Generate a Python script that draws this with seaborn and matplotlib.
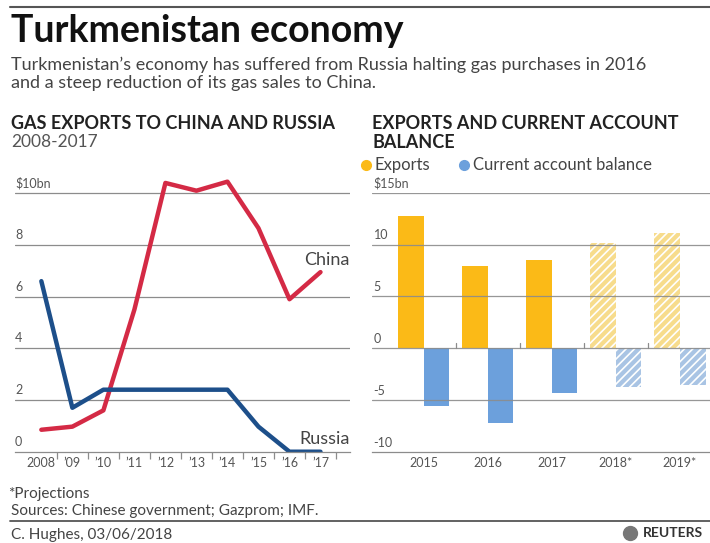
import numpy as np
import pandas as pd
import matplotlib
matplotlib.use("Agg")
import matplotlib.pyplot as plt
import seaborn as sns

# Left chart: gas exports, $bn
gas_years = [2008, 2009, 2010, 2011, 2012, 2013, 2014, 2015, 2016, 2017]
gas_labels = ["2008", "’09", "’10", "’11", "’12", "’13", "’14", "’15", "’16", "’17"]
china = [0.85, 0.97, 1.6, 5.5, 10.4, 10.1, 10.45, 8.65, 5.9, 6.95]
russia = [6.6, 1.7, 2.4, 2.4, 2.4, 2.4, 2.4, 0.97, 0.0, 0.0]

# Right chart: exports and current account balance, $bn
bal_years = ["2015", "2016", "2017", "2018*", "2019*"]
exports = [12.8, 7.97, 8.5, 10.1, 11.1]
current_account = [-5.6, -7.2, -4.35, -3.8, -3.6]
projected = [False, False, False, True, True]

RED = "#d42a45"
NAVY = "#1d4f8a"
GOLD = "#fbba17"
BLUE = "#6ca0dc"
GOLD_PALE = "#f7dc8c"
BLUE_PALE = "#a9c4e4"
GRID = "#8c8c8c"
TXT = "#555555"

sns.set_theme(style="white")
plt.rcParams["font.family"] = ["Lato", "DejaVu Sans"]
plt.rcParams["hatch.linewidth"] = 1.2

fig = plt.figure(figsize=(7.1, 5.43), dpi=100)

# ---------- left: line chart ----------
ax1 = fig.add_axes([0.0211, 0.1681, 0.4718, 0.5045])
gas_df = pd.DataFrame({"year": gas_years, "China": china, "Russia": russia})
sns.lineplot(data=gas_df, x="year", y="China", color=RED, lw=3.2, ax=ax1)
sns.lineplot(data=gas_df, x="year", y="Russia", color=NAVY, lw=3.2, ax=ax1)
ax1.set_xlim(2007.15, 2017.95)
ax1.set_ylim(0, 10.6)
for v in [2, 4, 6, 8, 10]:
    ax1.axhline(v, color=GRID, lw=0.9, zorder=0)
    lab = "$10bn" if v == 10 else str(v)
    ax1.text(2007.15, v + 0.15, lab, color=TXT, fontsize=9, va="bottom", ha="left")
ax1.text(2007.15, 0.15, "0", color=TXT, fontsize=9, va="bottom", ha="left")
ax1.set_yticks([])
ax1.set_xticks(gas_years)
ax1.set_xticklabels(gas_labels, color=TXT, fontsize=9)
ax1.set_xticks([y + 0.5 for y in gas_years], minor=True)
ax1.tick_params(axis="x", which="major", length=0, pad=4)
ax1.tick_params(axis="x", which="minor", bottom=True, length=5, width=0.9, color=GRID)
ax1.set_xlabel("")
ax1.set_ylabel("")
for s in ["top", "left", "right"]:
    ax1.spines[s].set_visible(False)
ax1.spines["bottom"].set_color(GRID)
ax1.spines["bottom"].set_linewidth(0.9)
ax1.text(2017.95, 7.1, "China", color="#444444", fontsize=13, ha="right", va="bottom")
ax1.text(2017.95, 0.2, "Russia", color="#444444", fontsize=13, ha="right", va="bottom")

# ---------- right: bar chart ----------
ax2 = fig.add_axes([0.5235, 0.1681, 0.4765, 0.477])
bal_df = pd.DataFrame({
    "year": bal_years * 2,
    "value": exports + current_account,
    "series": ["Exports"] * 5 + ["Current account balance"] * 5,
})
sns.barplot(data=bal_df, x="year", y="value", hue="series",
            palette=[GOLD, BLUE], width=0.8, dodge=True, saturation=1,
            legend=False, ax=ax2)
for i, bar in enumerate(ax2.patches[:10]):
    idx = i % 5
    bar.set_linewidth(0)
    if projected[idx]:
        bar.set_facecolor(GOLD_PALE if i < 5 else BLUE_PALE)
        bar.set_edgecolor("white")
        bar.set_hatch("////")
    else:
        bar.set_edgecolor("none")
ax2.set_xlim(-0.81, 4.47)
ax2.set_ylim(-10, 15)
for v in [-5, 0, 5, 10, 15]:
    ax2.axhline(v, color=GRID, lw=0.9, zorder=5, alpha=0.9)
    if v != 15:
        ax2.text(-0.78, v + 0.3, str(v), color=TXT, fontsize=9, va="bottom", ha="left")
ax2.text(-0.78, 15 + 0.3, "$15bn", color=TXT, fontsize=9, va="bottom", ha="left")
ax2.text(-0.78, -10 + 0.3, "-10", color=TXT, fontsize=9, va="bottom", ha="left")
ax2.set_yticks([])
ax2.tick_params(axis="x", length=0, pad=4, labelsize=9, labelcolor=TXT)
ax2.set_xlabel("")
ax2.set_ylabel("")
for k in range(4):
    ax2.plot([k + 0.5, k + 0.5], [0, 0.5], color=GRID, lw=0.9, zorder=6)
for s in ["top", "left", "right"]:
    ax2.spines[s].set_visible(False)
ax2.spines["bottom"].set_color(GRID)
ax2.spines["bottom"].set_linewidth(0.9)

# ---------- texts ----------
fig.add_artist(plt.Line2D([0.014, 1.0], [0.988, 0.988], color="#555555", lw=1.5))
fig.text(0.016, 0.943, "Turkmenistan economy", fontsize=27, fontweight="bold",
         color="#111111", va="center")
fig.text(0.016, 0.880, "Turkmenistan’s economy has suffered from Russia halting gas purchases in 2016",
         fontsize=13, color="#444444", va="center")
fig.text(0.016, 0.847, "and a steep reduction of its gas sales to China.",
         fontsize=13, color="#444444", va="center")
fig.text(0.016, 0.772, "GAS EXPORTS TO CHINA AND RUSSIA", fontsize=13, fontweight="bold",
         color="#222222", va="center")
fig.text(0.016, 0.738, "2008-2017", fontsize=12.5, color="#555555", va="center")
fig.text(0.524, 0.772, "EXPORTS AND CURRENT ACCOUNT", fontsize=13, fontweight="bold",
         color="#222222", va="center")
fig.text(0.524, 0.738, "BALANCE", fontsize=13, fontweight="bold", color="#222222", va="center")

# legend
fig.add_artist(plt.Line2D([0.5155], [0.696], marker="o", ms=7, color=GOLD, lw=0,
                          transform=fig.transFigure))
fig.text(0.528, 0.696, "Exports", color="#444444", fontsize=12, va="center")
fig.add_artist(plt.Line2D([0.6535], [0.696], marker="o", ms=7, color=BLUE, lw=0,
                          transform=fig.transFigure))
fig.text(0.666, 0.696, "Current account balance", color="#444444", fontsize=12, va="center")

# footer
fig.text(0.011, 0.091, "*Projections", fontsize=11, color="#444444", va="center")
fig.text(0.016, 0.059, "Sources: Chinese government; Gazprom; IMF.", fontsize=11,
         color="#444444", va="center")
fig.add_artist(plt.Line2D([0.014, 1.0], [0.040, 0.040], color="#555555", lw=1.3))
fig.text(0.016, 0.015, "C. Hughes, 03/06/2018", fontsize=11, color="#444444", va="center")
fig.add_artist(plt.Line2D([0.888], [0.018], marker="o", ms=10, color="#777777", lw=0,
                          transform=fig.transFigure))
fig.text(0.906, 0.018, "REUTERS", fontsize=10, fontweight="bold", color="#333333", va="center")

fig.savefig("out.png", dpi=100)
